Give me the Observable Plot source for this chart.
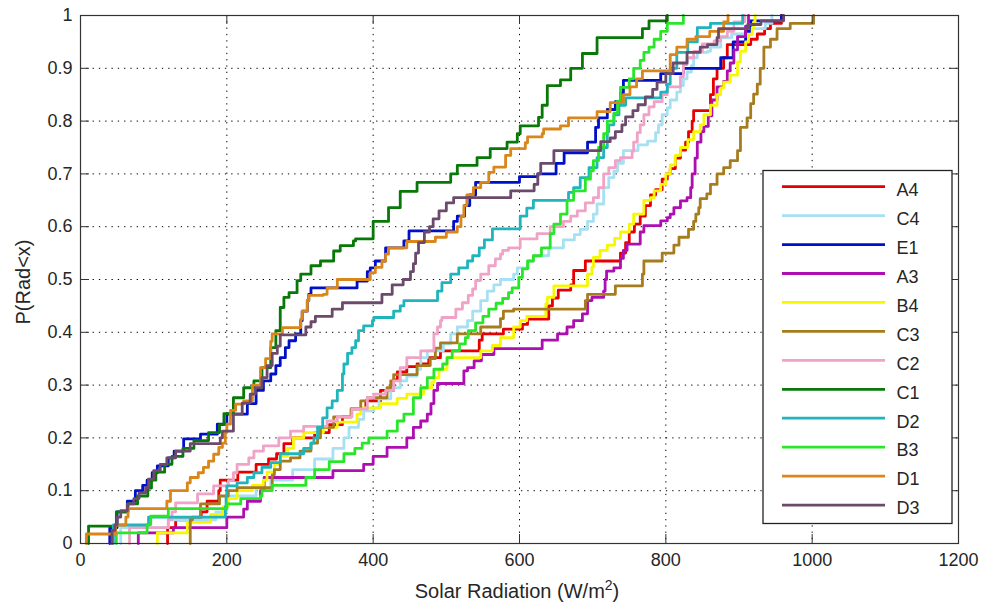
<!DOCTYPE html>
<html>
<head>
<meta charset="utf-8">
<script src="https://cdn.jsdelivr.net/npm/d3@7"></script>
<script src="https://cdn.jsdelivr.net/npm/@observablehq/plot@0.6"></script>
<style>
  html, body { margin: 0; padding: 0; background: #fff; }
  #chart { width: 983px; height: 610px; }
</style>
</head>
<body>
<div id="chart"></div>
<script>
// ---------- data ----------
const categories = ["A4","C4","E1","A3","B4","C3","C2","C1","D2","B3","D1","D3"];
const colors = ["#e60000","#a6e0f2","#0010c8","#ae0fb0","#f7f700","#a67c1f","#f0a3c6","#087808","#20b4bc","#2ae62a","#d9861a","#6b4a6b"];
const xTicks = [0, 200, 400, 600, 800, 1000, 1200];
const xTickLabels = ["0","200","400","600","800","1000","1200"];
const yTicks = [0, 0.1, 0.2, 0.3, 0.4, 0.5, 0.6, 0.7, 0.8, 0.9, 1];
const yTickLabels = ["0","0.1","0.2","0.3","0.4","0.5","0.6","0.7","0.8","0.9","1"];

// each series: [radiation value where the empirical CDF jumps, level after the jump]
const A4 = [[119,0.03],[130,0.045],[165,0.06],[173,0.08],[189,0.1],[191,0.12],[215,0.135],[240,0.15],[257,0.16],[268,0.17],[278,0.189],[290,0.2],[320,0.21],[340,0.225],[358,0.24],[370,0.255],[390,0.27],[410,0.29],[428,0.31],[433,0.325],[446,0.335],[460,0.34],[476,0.352],[492,0.365],[545,0.385],[549,0.397],[578,0.406],[604,0.415],[611,0.425],[640,0.45],[645,0.465],[653,0.48],[670,0.49],[674,0.517],[690,0.535],[738,0.55],[745,0.57],[750,0.59],[757,0.605],[765,0.62],[772,0.64],[779,0.66],[786,0.67],[795,0.69],[802,0.70],[806,0.71],[813,0.73],[820,0.745],[827,0.76],[831,0.78],[836,0.80],[838,0.82],[861,0.85],[865,0.88],[870,0.9],[879,0.92],[884,0.945],[916,0.955],[925,0.965],[935,0.975],[943,0.985],[958,1]];
const C4 = [[55,0.03],[120,0.045],[185,0.06],[200,0.09],[240,0.105],[260,0.12],[290,0.14],[320,0.16],[345,0.18],[360,0.2],[367,0.22],[380,0.235],[387,0.251],[401,0.257],[408,0.274],[424,0.295],[437,0.308],[446,0.317],[460,0.33],[465,0.352],[474,0.365],[496,0.378],[506,0.397],[515,0.41],[529,0.422],[536,0.44],[547,0.46],[556,0.478],[565,0.49],[574,0.5],[592,0.51],[597,0.522],[612,0.535],[619,0.545],[640,0.56],[660,0.575],[675,0.585],[683,0.595],[693,0.61],[701,0.624],[706,0.643],[715,0.674],[722,0.693],[729,0.705],[734,0.72],[742,0.744],[762,0.755],[775,0.762],[786,0.778],[790,0.793],[795,0.812],[802,0.825],[806,0.84],[815,0.855],[820,0.867],[824,0.88],[829,0.893],[835,0.905],[838,0.92],[843,0.93],[857,0.932],[861,0.94],[875,0.958],[890,0.965],[910,0.975],[936,0.985],[945,1]];
const E1 = [[40,0.03],[50,0.06],[64,0.08],[75,0.1],[85,0.11],[91,0.12],[98,0.134],[105,0.147],[120,0.162],[128,0.175],[141,0.198],[164,0.207],[187,0.226],[200,0.245],[228,0.265],[240,0.29],[250,0.308],[260,0.321],[267,0.337],[273,0.352],[280,0.371],[285,0.384],[294,0.397],[301,0.422],[303,0.44],[310,0.46],[312,0.472],[315,0.484],[378,0.497],[392,0.515],[396,0.522],[403,0.535],[417,0.56],[442,0.573],[449,0.592],[510,0.61],[515,0.62],[525,0.64],[532,0.66],[540,0.684],[600,0.695],[625,0.70],[650,0.72],[661,0.74],[693,0.76],[704,0.788],[708,0.806],[720,0.822],[731,0.837],[738,0.853],[742,0.877],[793,0.89],[824,0.9],[875,0.92],[892,0.95],[909,0.97],[916,0.99],[958,1]];
const A3 = [[79,0.02],[127,0.03],[200,0.05],[223,0.065],[228,0.08],[246,0.1],[251,0.125],[345,0.138],[387,0.15],[400,0.165],[419,0.182],[446,0.2],[455,0.22],[465,0.232],[474,0.245],[479,0.265],[483,0.29],[488,0.303],[524,0.327],[529,0.333],[538,0.346],[548,0.358],[565,0.369],[631,0.385],[652,0.397],[665,0.41],[674,0.422],[686,0.435],[693,0.46],[699,0.466],[715,0.478],[717,0.5],[719,0.516],[729,0.522],[738,0.54],[742,0.555],[747,0.567],[765,0.59],[770,0.602],[793,0.611],[802,0.617],[806,0.624],[811,0.636],[820,0.649],[829,0.655],[834,0.674],[836,0.7],[840,0.73],[843,0.76],[848,0.78],[852,0.79],[858,0.81],[863,0.84],[870,0.865],[879,0.875],[884,0.895],[888,0.91],[893,0.935],[898,0.96],[909,0.98],[913,1]];
const B4 = [[105,0.02],[146,0.04],[178,0.055],[195,0.07],[202,0.085],[214,0.1],[235,0.11],[250,0.12],[255,0.135],[265,0.15],[273,0.165],[283,0.18],[291,0.2],[305,0.21],[332,0.22],[351,0.23],[378,0.245],[383,0.257],[410,0.265],[433,0.275],[446,0.283],[469,0.295],[480,0.305],[483,0.314],[490,0.33],[501,0.352],[547,0.365],[563,0.375],[574,0.39],[592,0.41],[601,0.422],[610,0.43],[636,0.454],[638,0.466],[647,0.488],[693,0.51],[699,0.523],[701,0.542],[710,0.555],[720,0.565],[730,0.578],[738,0.59],[750,0.605],[756,0.624],[770,0.65],[779,0.655],[784,0.668],[793,0.68],[800,0.7],[806,0.717],[813,0.735],[820,0.75],[830,0.765],[838,0.78],[847,0.793],[852,0.812],[861,0.83],[870,0.85],[875,0.863],[879,0.874],[888,0.887],[898,0.912],[902,0.932],[909,0.95],[913,0.964],[918,0.977],[920,0.988],[922,1]];
const C3 = [[150,0.045],[153,0.05],[164,0.075],[190,0.09],[202,0.1],[214,0.106],[262,0.13],[265,0.14],[273,0.156],[287,0.162],[300,0.175],[315,0.19],[324,0.2],[328,0.22],[346,0.24],[370,0.255],[383,0.27],[392,0.276],[419,0.295],[424,0.308],[428,0.32],[460,0.337],[478,0.35],[485,0.37],[492,0.38],[515,0.397],[547,0.41],[574,0.426],[578,0.44],[592,0.444],[690,0.46],[693,0.472],[731,0.488],[768,0.51],[770,0.535],[795,0.55],[811,0.565],[818,0.58],[831,0.595],[838,0.61],[841,0.624],[845,0.636],[847,0.653],[856,0.662],[861,0.68],[870,0.7],[879,0.712],[888,0.725],[898,0.744],[902,0.788],[911,0.806],[916,0.833],[920,0.851],[925,0.87],[929,0.9],[934,0.94],[943,0.955],[952,0.975],[970,0.985],[1002,1]];
const C2 = [[67,0.03],[120,0.045],[125,0.06],[130,0.077],[160,0.094],[182,0.109],[202,0.119],[209,0.134],[214,0.15],[230,0.162],[237,0.175],[250,0.185],[271,0.2],[287,0.213],[305,0.222],[337,0.232],[351,0.24],[371,0.255],[392,0.276],[401,0.283],[417,0.29],[428,0.308],[437,0.333],[446,0.352],[465,0.365],[483,0.397],[488,0.41],[492,0.422],[494,0.428],[513,0.444],[522,0.456],[530,0.47],[536,0.482],[540,0.498],[547,0.51],[558,0.526],[567,0.539],[574,0.548],[577,0.555],[585,0.56],[601,0.577],[624,0.587],[642,0.6],[660,0.61],[670,0.62],[679,0.63],[690,0.645],[701,0.655],[708,0.674],[715,0.7],[722,0.712],[731,0.725],[738,0.731],[754,0.743],[756,0.76],[761,0.778],[765,0.793],[770,0.812],[777,0.827],[784,0.837],[795,0.85],[802,0.865],[820,0.884],[824,0.907],[829,0.92],[838,0.932],[850,0.946],[866,0.952],[875,0.96],[884,0.97],[893,0.988],[908,1]];
const C1 = [[11,0.033],[49,0.06],[65,0.075],[78,0.09],[92,0.105],[97,0.12],[103,0.135],[115,0.15],[125,0.165],[140,0.18],[155,0.195],[175,0.21],[190,0.225],[196,0.246],[209,0.276],[223,0.295],[237,0.308],[248,0.333],[260,0.371],[267,0.403],[273,0.447],[278,0.466],[285,0.475],[296,0.498],[301,0.51],[315,0.526],[328,0.535],[346,0.554],[355,0.564],[373,0.573],[376,0.577],[400,0.61],[421,0.636],[437,0.667],[460,0.684],[506,0.70],[515,0.716],[542,0.731],[560,0.748],[583,0.76],[597,0.776],[601,0.791],[626,0.807],[631,0.83],[638,0.867],[656,0.878],[670,0.9],[686,0.928],[706,0.958],[768,0.975],[777,0.99],[802,1]];
const D2 = [[45,0.035],[93,0.05],[198,0.07],[199,0.09],[200,0.109],[214,0.115],[228,0.125],[237,0.134],[248,0.144],[260,0.153],[273,0.17],[305,0.18],[315,0.19],[319,0.2],[324,0.22],[331,0.238],[337,0.257],[344,0.27],[351,0.29],[358,0.321],[360,0.34],[365,0.36],[371,0.371],[376,0.384],[380,0.403],[387,0.412],[399,0.422],[401,0.428],[428,0.44],[437,0.45],[442,0.46],[488,0.478],[494,0.494],[506,0.51],[517,0.522],[529,0.535],[536,0.545],[545,0.56],[552,0.575],[563,0.596],[601,0.62],[610,0.635],[619,0.65],[667,0.665],[674,0.674],[683,0.693],[695,0.712],[706,0.731],[715,0.75],[720,0.78],[722,0.793],[729,0.812],[736,0.83],[745,0.844],[793,0.855],[802,0.87],[806,0.9],[815,0.93],[830,0.95],[843,0.977],[861,0.985],[905,1]];
const B3 = [[49,0.02],[91,0.036],[96,0.052],[120,0.066],[200,0.075],[219,0.085],[246,0.09],[248,0.1],[262,0.11],[308,0.125],[320,0.14],[340,0.155],[360,0.17],[375,0.18],[385,0.19],[394,0.2],[419,0.213],[433,0.232],[442,0.245],[455,0.276],[465,0.295],[474,0.314],[483,0.33],[495,0.34],[501,0.352],[508,0.365],[518,0.378],[526,0.39],[530,0.403],[540,0.418],[550,0.43],[558,0.444],[568,0.455],[577,0.464],[585,0.475],[590,0.484],[599,0.504],[604,0.52],[611,0.535],[619,0.545],[630,0.56],[642,0.587],[647,0.605],[656,0.624],[665,0.65],[674,0.668],[690,0.69],[697,0.706],[701,0.725],[708,0.75],[715,0.776],[720,0.8],[729,0.815],[734,0.838],[738,0.864],[750,0.88],[756,0.9],[765,0.915],[770,0.93],[777,0.94],[784,0.955],[793,0.97],[802,0.985],[824,1]];
const D1 = [[8,0.018],[48,0.035],[62,0.05],[65,0.066],[118,0.08],[123,0.1],[146,0.115],[150,0.125],[161,0.134],[168,0.144],[175,0.156],[182,0.169],[189,0.182],[194,0.19],[198,0.21],[200,0.226],[205,0.252],[212,0.264],[223,0.27],[235,0.3],[246,0.333],[253,0.35],[260,0.383],[262,0.397],[276,0.409],[301,0.425],[303,0.44],[310,0.46],[312,0.47],[332,0.472],[337,0.484],[351,0.5],[396,0.513],[403,0.523],[412,0.535],[417,0.548],[421,0.56],[446,0.572],[485,0.58],[500,0.59],[515,0.6],[520,0.62],[524,0.64],[528,0.66],[537,0.674],[547,0.684],[558,0.703],[565,0.713],[581,0.735],[588,0.748],[608,0.759],[611,0.77],[631,0.776],[633,0.785],[656,0.791],[667,0.806],[706,0.818],[724,0.835],[742,0.85],[751,0.865],[760,0.88],[768,0.895],[806,0.926],[815,0.94],[829,0.955],[841,0.96],[860,0.97],[879,0.988],[885,1]];
const D3 = [[43,0.025],[47,0.035],[50,0.05],[55,0.062],[64,0.075],[73,0.085],[80,0.096],[89,0.106],[93,0.122],[100,0.138],[109,0.15],[118,0.162],[130,0.175],[150,0.189],[191,0.2],[194,0.213],[209,0.245],[221,0.266],[232,0.283],[239,0.295],[248,0.314],[255,0.337],[262,0.36],[269,0.374],[273,0.395],[308,0.41],[315,0.42],[321,0.43],[344,0.444],[358,0.456],[412,0.472],[426,0.49],[441,0.5],[451,0.515],[455,0.53],[458,0.55],[462,0.57],[470,0.59],[477,0.6],[482,0.615],[490,0.63],[500,0.645],[510,0.655],[588,0.668],[620,0.68],[625,0.7],[629,0.72],[647,0.744],[711,0.761],[724,0.768],[731,0.78],[740,0.793],[745,0.808],[755,0.82],[762,0.831],[772,0.846],[782,0.86],[788,0.874],[800,0.89],[810,0.91],[829,0.93],[847,0.94],[857,0.945],[870,0.958],[872,0.975],[912,0.983],[930,0.99],[961,1]];
const seriesValues = [A4, C4, E1, A3, B4, C3, C2, C1, D2, B3, D1, D3];

// ---------- build rows for the step lines ----------
const rows = categories.flatMap((name, i) => {
  const pts = seriesValues[i];
  return [{name, x: pts[0][0], p: 0}, ...pts.map(([x, p]) => ({name, x, p}))];
});

const W = 983, H = 610, mL = 80, mR = 25, mT = 15, mB = 67;
const plotW = W - mL - mR, plotH = H - mT - mB;
const tickDx = 9 * 1200 / plotW, tickDy = 9 / plotH;
const ink = "#262626";

const chart = Plot.plot({
  width: W, height: H,
  marginLeft: mL, marginRight: mR, marginTop: mT, marginBottom: mB,
  style: {fontFamily: "'Liberation Sans', Arial, sans-serif", fontSize: "18px", background: "#fff", color: ink},
  x: {domain: [0, 1200]},
  y: {domain: [0, 1]},
  color: {domain: categories, range: colors},
  marks: [
    Plot.gridX({ticks: xTicks.slice(1, -1), stroke: "#000", strokeOpacity: 1, strokeDasharray: "1.3,5"}),
    Plot.gridY({ticks: yTicks.slice(1, -1), stroke: "#000", strokeOpacity: 1, strokeDasharray: "1.3,5"}),
    Plot.line(rows, {x: "x", y: "p", z: "name", stroke: "name", curve: "step-after", strokeWidth: 2.8}),
    Plot.ruleX(xTicks, {x: d => d, y1: 0, y2: tickDy, stroke: "#333"}),
    Plot.ruleX(xTicks, {x: d => d, y1: 1 - tickDy, y2: 1, stroke: "#333"}),
    Plot.ruleY(yTicks, {y: d => d, x1: 0, x2: tickDx, stroke: "#333"}),
    Plot.ruleY(yTicks, {y: d => d, x1: 1200 - tickDx, x2: 1200, stroke: "#333"}),
    Plot.axisX({ticks: xTicks, tickSize: 0, tickPadding: 10, label: null, fontSize: 18, fill: ink,
                tickFormat: d => xTickLabels[xTicks.indexOf(d)]}),
    Plot.axisY({ticks: yTicks, tickSize: 0, tickPadding: 8, label: null, fontSize: 18, fill: ink,
                tickFormat: d => yTickLabels[yTicks.indexOf(d)]}),
    Plot.frame({stroke: "#333", strokeWidth: 1.2})
  ]
});
document.getElementById("chart").appendChild(chart);

// ---------- axis titles and legend ----------
const svg = d3.select(chart);
const font = "'Liberation Sans', Arial, sans-serif";

const xl = svg.append("text")
  .attr("x", 517).attr("y", 598)
  .attr("text-anchor", "middle").attr("font-family", font).attr("font-size", 20).attr("fill", ink);
xl.append("tspan").text("Solar Radiation (W/m");
xl.append("tspan").attr("dy", -8).attr("font-size", 14).text("2");
xl.append("tspan").attr("dy", 8).text(")");

svg.append("text")
  .attr("transform", `translate(30,${mT + plotH / 2 + 3}) rotate(-90)`)
  .attr("text-anchor", "middle").attr("font-family", font).attr("font-size", 20).attr("fill", ink)
  .text("P(Rad<x)");

const lg = svg.append("g").attr("transform", "translate(763,170.5)");
lg.append("rect").attr("width", 189).attr("height", 353)
  .attr("fill", "#fff").attr("stroke", "#222").attr("stroke-width", 1.3);
categories.forEach((name, i) => {
  const cy = 16.2 + i * 28.94;
  lg.append("line").attr("x1", 19).attr("x2", 122).attr("y1", cy).attr("y2", cy)
    .attr("stroke", colors[i]).attr("stroke-width", 2.8);
  lg.append("text").attr("x", 133.5).attr("y", cy + 9.3).attr("text-anchor", "start")
    .attr("font-family", font).attr("font-size", 18).attr("fill", ink).text(name);
});
</script>
</body>
</html>
